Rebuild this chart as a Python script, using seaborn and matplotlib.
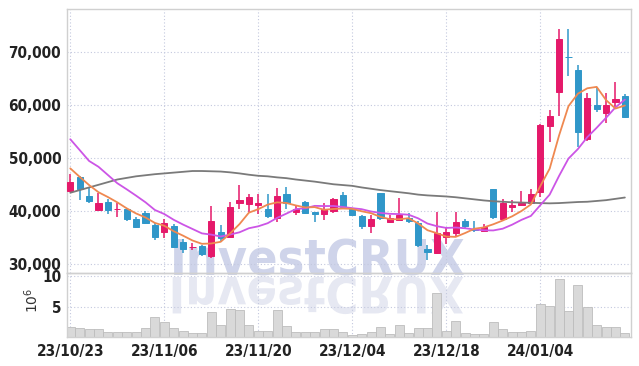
import numpy as np
import pandas as pd
import matplotlib
matplotlib.use("Agg")
import matplotlib.pyplot as plt
import seaborn as sns
from matplotlib.textpath import TextPath
from matplotlib.patches import PathPatch
from matplotlib.font_manager import FontProperties
from matplotlib.transforms import Affine2D

# ---------------- data ----------------
opens = [43900, 46400, 42890, 40245, 41810, 40400, 40435, 38550, 39620, 37415,
         36040, 37225, 34150, 33200, 33450, 31565, 36150, 35210, 41510, 41320,
         41130, 40435, 38680, 43260, 39810, 41700, 39810, 39430, 40060, 43075,
         40565, 39110, 37225, 43400, 38040, 38360, 38680, 37850, 32830, 32190,
         35095, 35960, 38110, 36720, 36340, 44210, 38490, 40755, 41130, 41620,
         43700, 56150, 62450, 69200, 66660, 53640, 60055, 58490, 60620, 61750]
highs = [47000, 46700, 44500, 43510, 42300, 41510, 40600, 38980, 40060, 37790,
         38490, 37600, 34715, 33960, 33600, 41000, 37415, 41700, 44960, 43260,
         43200, 43260, 44340, 44530, 41000, 41900, 39925, 41510, 42450, 43700,
         40700, 39300, 39300, 43510, 39300, 42450, 39620, 38100, 33640, 39925,
         37095, 39810, 38490, 38170, 37545, 44300, 42265, 42130, 43830, 44150,
         56400, 59110, 74340, 74340, 67600, 62260, 63500, 62380, 64450, 62130]
lows = [43800, 42100, 41510, 40200, 39490, 38980, 38225, 36790, 37600, 34585,
        34905, 33300, 32075, 32700, 31565, 31130, 34450, 35100, 40380, 39925,
        39430, 38680, 38040, 40435, 39300, 39430, 38040, 38360, 39620, 40700,
        39100, 36660, 35850, 38360, 37735, 38170, 37735, 33320, 30810, 32000,
        33830, 35210, 36790, 36150, 36150, 38490, 38300, 39925, 41000, 41400,
        42750, 53130, 57980, 65490, 52190, 53320, 58790, 56600, 59735, 57550]
closes = [45500, 44150, 41940, 41620, 40245, 40500, 38490, 37095, 37850, 35095,
          37850, 33320, 32890, 33320, 31945, 38170, 34905, 40755, 42130, 42750,
          41510, 39170, 42890, 41510, 40435, 39620, 39490, 40380, 42265, 40870,
          39300, 37225, 38550, 38790, 38680, 39245, 38225, 33640, 32380, 35850,
          36040, 37980, 37225, 36470, 37095, 38980, 41510, 41190, 41510, 43260,
          56280, 57980, 72510, 69150, 55020, 61380, 59300, 60055, 61190, 57850]
volumes_m = [1.68, 1.47, 1.31, 1.31, 0.85, 0.85, 0.85, 0.85, 1.47, 3.32,
             2.45, 1.47, 0.98, 0.65, 0.65, 4.18, 1.93, 4.57, 4.41, 1.93,
             0.98, 1.10, 4.41, 1.90, 0.80, 0.80, 0.80, 1.31, 1.31, 0.92,
             0.33, 0.54, 0.82, 1.63, 0.54, 1.93, 0.65, 1.55, 1.44, 7.29,
             0.98, 2.63, 0.65, 0.49, 0.49, 2.58, 1.31, 0.82, 0.82, 0.98,
             5.40, 5.09, 9.60, 4.25, 8.52, 4.95, 1.98, 1.65, 1.65, 0.68]
# moving-average values whose history lies before the visible window
ma5_head = [48100, 46500, 44950, 43600]
ma10_head = [53600, 51550, 49500, 48400, 46850, 45300, 44150, 42950, 41700]
ma60 = [43500, 44000, 44500, 45000, 45500, 46000, 46300, 46600, 46800, 47000,
        47150, 47300, 47450, 47600, 47600, 47550, 47500, 47350, 47150, 46900,
        46700, 46600, 46400, 46250, 46000, 45800, 45600, 45350, 45100, 44950,
        44800, 44500, 44250, 44000, 43800, 43600, 43400, 43150, 43000, 42900,
        42800, 42650, 42450, 42250, 42050, 41900, 41800, 41700, 41650, 41600,
        41550, 41500, 41550, 41650, 41750, 41800, 41950, 42100, 42350, 42600]
tick_positions = [0, 10, 20, 30, 40, 50]
tick_labels = ["23/10/23", "23/11/06", "23/11/20", "23/12/04", "23/12/18", "24/01/04"]
price_ticks = [30000, 40000, 50000, 60000, 70000]
volume_ticks = [5, 10]
watermark = "InvestCRUX"

# ---------------- frame ----------------
df = pd.DataFrame({"i": np.arange(len(closes)), "open": opens, "high": highs,
                   "low": lows, "close": closes, "volume": volumes_m})
ma5 = df["close"].rolling(5).mean().to_numpy()
ma5[:len(ma5_head)] = ma5_head
ma10 = df["close"].rolling(10).mean().to_numpy()
ma10[:len(ma10_head)] = ma10_head
df["ma5"] = ma5
df["ma10"] = ma10
df["ma60"] = ma60

sns.set_theme(style="white")
plt.rcParams["font.family"] = ["DejaVu Sans"]
plt.rcParams["font.stretch"] = "condensed"
plt.rcParams["mathtext.default"] = "regular"

UP = "#e5196a"
DOWN = "#3097c9"
GRID = "#c3c8de"
SPINE = "#d0d0d0"
TICKFONT = dict(fontsize=11, fontweight="bold", fontstretch="condensed", color="#222222")

fig = plt.figure(figsize=(6.39, 3.66), dpi=100)
fig.patch.set_facecolor("white")
axp = fig.add_axes([0.1044, 0.2549, 0.8826, 0.7197])
axv = fig.add_axes([0.1044, 0.0784, 0.8826, 0.1765], sharex=axp)
for ax in (axp, axv):
    ax.set_facecolor("none")
    for s in ax.spines.values():
        s.set_color(SPINE)
        s.set_linewidth(1.0)
    ax.grid(True, linestyle=(0, (1, 2)), color=GRID, linewidth=0.8)
    ax.tick_params(length=0)

# watermark (behind everything)
WM_SIZE = 36
wm_fp = FontProperties(family="DejaVu Sans", weight="bold", stretch="condensed", size=WM_SIZE)
fig.text(0.4977, 1 - 275 / 366, watermark, fontproperties=wm_fp, color="#cfd4ea",
         ha="center", va="baseline", zorder=-5)
tp = TextPath((0, 0), watermark, prop=wm_fp, size=WM_SIZE)
ext = tp.get_extents()
sc = fig.dpi / 72.0
xc = 0.4977 * fig.bbox.width
yb = (1 - 277 / 366) * fig.bbox.height
tr = Affine2D().translate(-(ext.x0 + ext.x1) / 2, 0).scale(sc, -sc).translate(xc, yb)
refl = PathPatch(tp, transform=tr, facecolor="#e6e8f2", edgecolor="none", zorder=-6)
fig.add_artist(refl)

# candles
up = df["close"] >= df["open"]
colors = np.where(up, UP, DOWN)
axp.vlines(df["i"], df["low"], df["high"], colors=colors, linewidth=1.1, zorder=2)
body_bottom = np.minimum(df["open"], df["close"])
body_h = np.abs(df["close"] - df["open"])
axp.bar(df["i"], body_h, bottom=body_bottom, width=0.66, color=colors,
        edgecolor=colors, linewidth=0.7, zorder=3)

# moving averages
sns.lineplot(data=df, x="i", y="ma60", ax=axp, color="#7a7a7a", linewidth=1.3, zorder=4)
sns.lineplot(data=df, x="i", y="ma10", ax=axp, color="#cc55e6", linewidth=1.3, zorder=5)
sns.lineplot(data=df, x="i", y="ma5", ax=axp, color="#ef8850", linewidth=1.3, zorder=6)

axp.set_ylim(28415, 78110)
axp.set_yticks(price_ticks)
axp.set_yticklabels([f"{v:,}" for v in price_ticks], **TICKFONT)
axp.tick_params(axis="y", pad=4)
axp.set_xlabel("")
axp.set_ylabel("")
plt.setp(axp.get_xticklabels(), visible=False)

# volume
axv.bar(df["i"], df["volume"], width=0.96, color="#d9d9d9", edgecolor="#bdbdbd",
        linewidth=0.6, zorder=2)
axv.set_ylim(0, 10.55)
axv.set_yticks(volume_ticks)
axv.set_yticklabels([str(v) for v in volume_ticks], **TICKFONT)
axv.tick_params(axis="y", pad=4)
axv.set_xticks(tick_positions)
axv.set_xticklabels(tick_labels, **TICKFONT)
axv.tick_params(axis="x", pad=4.5)
axv.set_xlim(-0.38, 59.62)
axv.set_xlabel("")
axv.set_ylabel("")
fig.text(32 / 639, 1 - 300 / 366, r"$10^6$", rotation=90, ha="center", va="center",
         fontsize=10, color="#333333", family="DejaVu Sans", fontstretch="normal")

fig.savefig("out.png", dpi=100, facecolor="white")
